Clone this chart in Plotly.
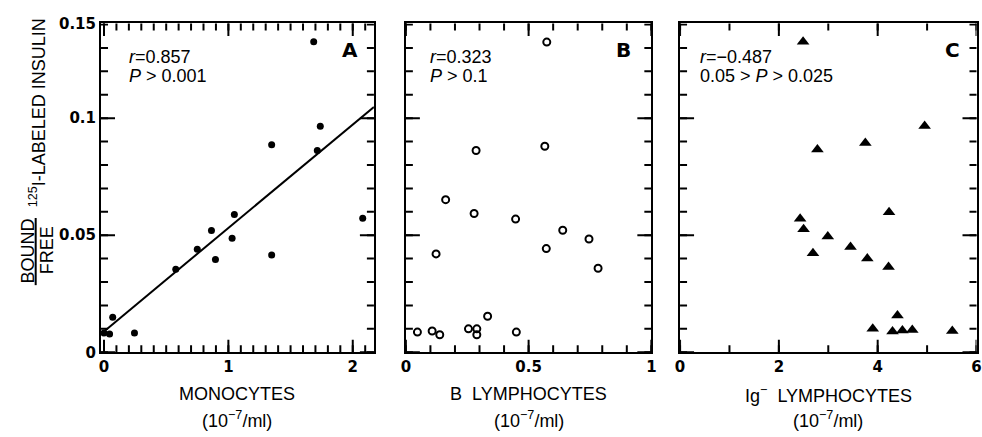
import plotly.graph_objects as go

W, H = 982, 437

# ---------------- data ----------------
# Panel A: monocytes
mono_x = [0.0, 0.045, 0.07, 0.245, 0.577, 0.75, 0.864, 0.896, 1.03, 1.048,
          1.348, 1.348, 1.686, 1.715, 1.739, 2.08]
mono_y = [0.0082, 0.0078, 0.015, 0.0082, 0.0355, 0.044, 0.052, 0.0396, 0.0487, 0.0589,
          0.0887, 0.0416, 0.1327, 0.0862, 0.0966, 0.0573]
fit_intercept = 0.0089
fit_slope = 0.0442
fit_x = [0.0, 2.17]

# Panel B: B lymphocytes
blym_x = [0.047, 0.107, 0.138, 0.123, 0.162, 0.255, 0.289, 0.289, 0.278, 0.286,
          0.333, 0.447, 0.45, 0.566, 0.574, 0.572, 0.639, 0.746, 0.783]
blym_y = [0.0086, 0.0091, 0.0075, 0.042, 0.0652, 0.010, 0.010, 0.0075, 0.0593, 0.0862,
          0.0154, 0.0569, 0.0086, 0.088, 0.1325, 0.0443, 0.0521, 0.0484, 0.0359]

# Panel C: Ig- lymphocytes
iglym_x = [2.49, 2.78, 2.43, 2.50, 2.69, 2.99, 3.45, 3.75, 3.79, 3.90,
           4.23, 4.22, 4.30, 4.40, 4.50, 4.70, 4.95, 5.51]
iglym_y = [0.1326, 0.0866, 0.057, 0.0525, 0.0423, 0.0494, 0.045, 0.0894, 0.040, 0.010,
           0.0598, 0.0364, 0.0089, 0.0157, 0.0093, 0.0095, 0.0967, 0.0091]

# tick labels
y_tickvals = [0, 0.05, 0.1, 0.1405]
y_ticktext = ["0", "0.05", "0.1", "0.15"]
a_tickvals = [0, 1, 2]
a_ticktext = ["0", "1", "2"]
b_tickvals = [0, 0.5, 1]
b_ticktext = ["0", "0.5", "1"]
c_tickvals = [0, 2, 4, 6]
c_ticktext = ["0", "2", "4", "6"]

# minor (unlabelled) tick positions
y_minor = [k / 100 for k in range(0, 15)]
a_minor = [k / 10 for k in range(0, 22)]
b_minor = [k / 10 for k in range(0, 11)]
c_minor = [k for k in range(0, 7)]

panel_letters = ["A", "B", "C"]
stats_r = ["<i>r</i>=0.857", "<i>r</i>=0.323", "<i>r</i>=\u22120.487"]
stats_p = ["<i>P</i> &gt; 0.001", "<i>P</i> &gt; 0.1", "0.05 &gt; <i>P</i> &gt; 0.025"]
x_titles = ["MONOCYTES", "B  LYMPHOCYTES", "Ig<sup>\u2212</sup>  LYMPHOCYTES"]
x_unit = "(10<sup>\u22127</sup>/ml)"

# ---------------- figure ----------------
TICKFONT = dict(family="DejaVu Sans", size=15, color="black", weight="bold")
TEXTFONT = dict(family="Liberation Sans, Arial, sans-serif", size=18, color="black")

fig = go.Figure()
fig.add_trace(go.Scatter(x=mono_x, y=mono_y, mode="markers", xaxis="x", yaxis="y",
                         marker=dict(symbol="circle", size=7, color="black"),
                         showlegend=False, hoverinfo="skip"))
fig.add_trace(go.Scatter(x=fit_x, y=[fit_intercept + fit_slope * v for v in fit_x],
                         mode="lines", xaxis="x", yaxis="y",
                         line=dict(color="black", width=2), showlegend=False, hoverinfo="skip"))
fig.add_trace(go.Scatter(x=blym_x, y=blym_y, mode="markers", xaxis="x2", yaxis="y2",
                         marker=dict(symbol="circle-open", size=7, color="black",
                                     line=dict(width=2, color="black")),
                         showlegend=False, hoverinfo="skip"))
fig.add_trace(go.Scatter(x=iglym_x, y=iglym_y, mode="markers", xaxis="x3", yaxis="y3",
                         marker=dict(symbol="triangle-up", size=11, color="black"),
                         showlegend=False, hoverinfo="skip"))

ytop = 1 - 15 / H
ybot = 1 - 358 / H
yrange = [0, 0.1405]
# panel A starts slightly left of x=0 so the dots at x=0 are not clipped
domains = [(97 / W, 372.7 / W), (405 / W, 653 / W), (682 / W, 981.5 / W)]
xranges = [[-0.024, 2.17], [0, 1], [0, 6]]
xticks = [(a_tickvals, a_ticktext, a_minor), (b_tickvals, b_ticktext, b_minor),
          (c_tickvals, c_ticktext, c_minor)]

layout = dict(width=W, height=H, margin=dict(l=0, r=0, t=0, b=0),
              plot_bgcolor="white")

common = dict(showline=True, linecolor="black", linewidth=2, mirror=True,
              ticks="", showgrid=False, zeroline=False)


def tick_trace(xs, ys, symbol, size, xa, ya):
    # inward tick marks: a line symbol centred on the frame, outer half clipped
    return go.Scatter(x=xs, y=ys, mode="markers", xaxis=xa, yaxis=ya,
                      marker=dict(symbol=symbol, size=size, color="black",
                                  line=dict(width=2, color="black")),
                      cliponaxis=True, showlegend=False, hoverinfo="skip")


for i in range(3):
    sx = "" if i == 0 else str(i + 1)
    tv, tt, mv = xticks[i]
    xr = xranges[i]
    layout["xaxis" + sx] = dict(common, domain=list(domains[i]), range=xr,
                                anchor="y" + sx, tickmode="array",
                                tickvals=tv, ticktext=tt, tickfont=TICKFONT)
    layout["yaxis" + sx] = dict(common, domain=[ybot, ytop], range=yrange,
                                anchor="x" + sx, tickmode="array",
                                tickvals=y_tickvals, ticktext=y_ticktext,
                                showticklabels=(i == 0), tickfont=TICKFONT)
    xa, ya = "x" + sx, "y" + sx
    # bottom and top ticks
    for yedge in yrange:
        fig.add_trace(tick_trace(tv, [yedge] * len(tv), "line-ns", 18, xa, ya))
        fig.add_trace(tick_trace(mv, [yedge] * len(mv), "line-ns", 10, xa, ya))
    # left and right ticks
    ymaj = y_tickvals[:3]
    for xedge in xr:
        fig.add_trace(tick_trace([xedge] * len(ymaj), ymaj, "line-ew", 20, xa, ya))
        fig.add_trace(tick_trace([xedge] * len(y_minor), y_minor, "line-ew", 10, xa, ya))

fig.update_layout(**layout)

ann = []
def px(x, y):
    return x / W, 1 - y / H

stat_x = [123, 427, 700]
letter_x = [349, 625, 957]
for i in range(3):
    x0, x1 = domains[i]
    cx = (x0 + x1) / 2
    a, b = px(stat_x[i], 50)
    ann.append(dict(x=a, y=b, xref="paper", yref="paper", text=stats_r[i],
                    showarrow=False, xanchor="left", yanchor="middle", font=TEXTFONT))
    a, b = px(stat_x[i], 70)
    ann.append(dict(x=a, y=b, xref="paper", yref="paper", text=stats_p[i],
                    showarrow=False, xanchor="left", yanchor="middle", font=TEXTFONT))
    a, b = px(letter_x[i], 43)
    ann.append(dict(x=a, y=b, xref="paper", yref="paper", text=panel_letters[i],
                    showarrow=False, xanchor="center", yanchor="middle",
                    font=dict(family="DejaVu Sans", size=20, color="black", weight="bold")))
    ann.append(dict(x=cx, y=1 - 402 / H, xref="paper", yref="paper", text=x_titles[i],
                    showarrow=False, xanchor="center", yanchor="middle", font=TEXTFONT))
    ann.append(dict(x=cx, y=1 - 428 / H, xref="paper", yref="paper", text=x_unit,
                    showarrow=False, xanchor="center", yanchor="middle", font=TEXTFONT))

a, b = px(33, 108)
ann.append(dict(x=a, y=b, xref="paper", yref="paper",
                text="<sup>125</sup>I-LABELED INSULIN", textangle=-90,
                showarrow=False, xanchor="center", yanchor="middle", font=TEXTFONT))
a, b = px(23, 252)
ann.append(dict(x=a, y=b, xref="paper", yref="paper", text="BOUND", textangle=-90,
                showarrow=False, xanchor="center", yanchor="middle", font=TEXTFONT))
a, b = px(42, 252)
ann.append(dict(x=a, y=b, xref="paper", yref="paper", text="FREE", textangle=-90,
                showarrow=False, xanchor="center", yanchor="middle", font=TEXTFONT))

fig.update_layout(annotations=ann, showlegend=False)
fig.add_shape(type="line", xref="paper", yref="paper",
              x0=31 / W, x1=31 / W, y0=1 - 218 / H, y1=1 - 288 / H,
              line=dict(color="black", width=2))

fig.write_html("out.html", config={"displayModeBar": False},
               post_script="document.body.style.margin='0';document.body.style.overflow='hidden';")
